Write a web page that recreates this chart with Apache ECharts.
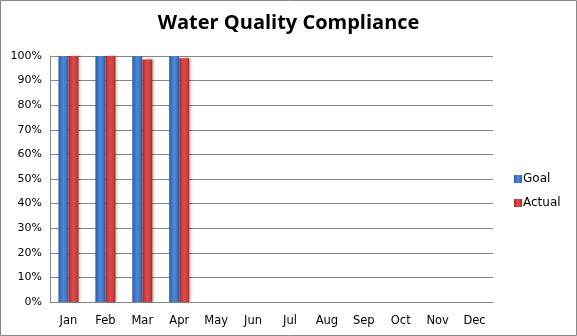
<!DOCTYPE html>
<html><head><meta charset="utf-8">
<script src="https://cdn.jsdelivr.net/npm/echarts@6/dist/echarts.min.js"></script>
<style>html,body{margin:0;padding:0;background:#fff}#c{width:577px;height:336px}</style>
</head><body><div id="c"></div>
<script>
const categories = ['Jan','Feb','Mar','Apr','May','Jun','Jul','Aug','Sep','Oct','Nov','Dec'];
const goal = [1, 1, 1, 1, null, null, null, null, null, null, null, null];
const actual = [1, 1, 0.986, 0.991, null, null, null, null, null, null, null, null];
const title = 'Water Quality Compliance';

function grad(dark, mid, light) {
  return new echarts.graphic.LinearGradient(0, 0, 1, 0, [
    {offset: 0, color: dark}, {offset: 0.2, color: mid}, {offset: 0.5, color: light}, {offset: 0.85, color: mid}, {offset: 1, color: dark}
  ]);
}
const chart = echarts.init(document.getElementById('c'), null, {renderer: 'canvas'});
chart.setOption({
  animation: false,
  title: {text: title, left: 'center', top: 8, textStyle: {fontFamily: 'Open Sans', fontWeight: 'bold', fontSize: 20, color: '#000'}},
  graphic: [{type: 'rect', shape: {x: 0.5, y: 0.5, width: 576, height: 335}, style: {fill: 'none', stroke: '#888', lineWidth: 1}, silent: true}],
  legend: {
    orient: 'vertical', left: 509, top: 168, itemWidth: 8, itemHeight: 8, itemGap: 12,
    textStyle: {fontFamily: 'DejaVu Sans', fontSize: 12, color: '#000', padding: [0, 0, 0, -4]},
    data: [{name: 'Goal', icon: 'rect'}, {name: 'Actual', icon: 'rect'}]
  },
  grid: {left: 50, right: 84, top: 56, bottom: 34},
  xAxis: {
    type: 'category', data: categories,
    axisLine: {lineStyle: {color: '#868686'}}, axisTick: {show: false},
    axisLabel: {fontFamily: 'DejaVu Sans', fontSize: 11.5, color: '#000', margin: 13}
  },
  yAxis: {
    type: 'value', min: 0, max: 1, interval: 0.1,
    axisLine: {show: true, lineStyle: {color: '#868686'}}, axisTick: {show: false},
    splitLine: {lineStyle: {color: '#868686'}},
    axisLabel: {fontFamily: 'DejaVu Sans', fontSize: 11, color: '#000', margin: 8, formatter: v => Math.round(v * 100) + '%'}
  },
  series: [
    {name: 'Goal', type: 'bar', data: goal, barWidth: 10, barGap: '0%',
     itemStyle: {color: grad('#2a569a', '#3a70c0', '#4f88d6')}},
    {name: 'Actual', type: 'bar', data: actual, barWidth: 10,
     itemStyle: {color: grad('#9a2a28', '#c63a38', '#dc4e4a'), shadowColor: 'rgba(0,0,0,0.3)', shadowBlur: 3, shadowOffsetX: 2}}
  ]
});
</script></body></html>
